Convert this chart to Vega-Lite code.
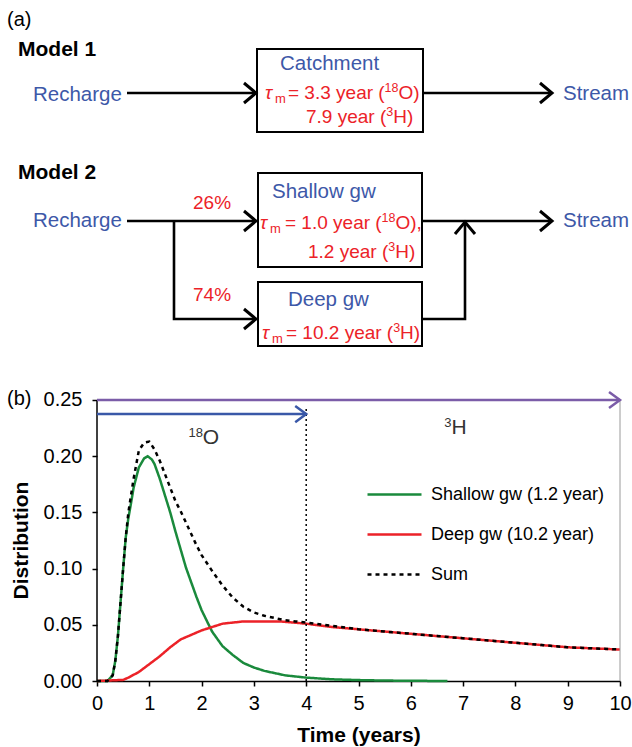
{
"$schema":"https://vega.github.io/schema/vega-lite/v6.json",
"autosize":{"type":"none"},
"width":523,"height":681,
"padding":{"left":97,"top":0,"right":12,"bottom":66},
"background":"white",
"config":{"view":{"stroke":null},"font":"Liberation Sans",
 "axis":{"labelFont":"Liberation Sans","titleFont":"Liberation Sans","labelColor":"black","titleColor":"black","tickColor":"black","domainColor":"black","grid":false},
 "legend":{"labelFont":"Liberation Sans"}},
"datasets":{
 "curves":[
  {"s":"Shallow gw (1.2 year)","t":0,"v":0},{"s":"Shallow gw (1.2 year)","t":0.2,"v":0},{"s":"Shallow gw (1.2 year)","t":0.3,"v":0.005},{"s":"Shallow gw (1.2 year)","t":0.35,"v":0.018},{"s":"Shallow gw (1.2 year)","t":0.4,"v":0.04},{"s":"Shallow gw (1.2 year)","t":0.45,"v":0.07},{"s":"Shallow gw (1.2 year)","t":0.5,"v":0.1},{"s":"Shallow gw (1.2 year)","t":0.55,"v":0.128},{"s":"Shallow gw (1.2 year)","t":0.6,"v":0.145},{"s":"Shallow gw (1.2 year)","t":0.65,"v":0.158},{"s":"Shallow gw (1.2 year)","t":0.7,"v":0.172},{"s":"Shallow gw (1.2 year)","t":0.8,"v":0.19},{"s":"Shallow gw (1.2 year)","t":0.9,"v":0.198},{"s":"Shallow gw (1.2 year)","t":0.97,"v":0.2},{"s":"Shallow gw (1.2 year)","t":1.05,"v":0.197},{"s":"Shallow gw (1.2 year)","t":1.1,"v":0.193},{"s":"Shallow gw (1.2 year)","t":1.2,"v":0.18},{"s":"Shallow gw (1.2 year)","t":1.3,"v":0.165},{"s":"Shallow gw (1.2 year)","t":1.4,"v":0.15},{"s":"Shallow gw (1.2 year)","t":1.5,"v":0.133},{"s":"Shallow gw (1.2 year)","t":1.6,"v":0.117},{"s":"Shallow gw (1.2 year)","t":1.7,"v":0.101},{"s":"Shallow gw (1.2 year)","t":1.8,"v":0.088},{"s":"Shallow gw (1.2 year)","t":1.9,"v":0.075},{"s":"Shallow gw (1.2 year)","t":2.0,"v":0.063},{"s":"Shallow gw (1.2 year)","t":2.2,"v":0.044},{"s":"Shallow gw (1.2 year)","t":2.4,"v":0.031},{"s":"Shallow gw (1.2 year)","t":2.6,"v":0.023},{"s":"Shallow gw (1.2 year)","t":2.8,"v":0.016},{"s":"Shallow gw (1.2 year)","t":3.0,"v":0.012},{"s":"Shallow gw (1.2 year)","t":3.2,"v":0.009},{"s":"Shallow gw (1.2 year)","t":3.4,"v":0.007},{"s":"Shallow gw (1.2 year)","t":3.6,"v":0.005},{"s":"Shallow gw (1.2 year)","t":3.8,"v":0.004},{"s":"Shallow gw (1.2 year)","t":4.0,"v":0.003},{"s":"Shallow gw (1.2 year)","t":4.5,"v":0.0015},{"s":"Shallow gw (1.2 year)","t":5.0,"v":0.0008},{"s":"Shallow gw (1.2 year)","t":5.5,"v":0.0004},{"s":"Shallow gw (1.2 year)","t":6.0,"v":0.0002},{"s":"Shallow gw (1.2 year)","t":6.7,"v":0},
  {"s":"Deep gw (10.2 year)","t":0,"v":0},{"s":"Deep gw (10.2 year)","t":0.5,"v":0.001},{"s":"Deep gw (10.2 year)","t":0.6,"v":0.003},{"s":"Deep gw (10.2 year)","t":0.8,"v":0.008},{"s":"Deep gw (10.2 year)","t":1.0,"v":0.015},{"s":"Deep gw (10.2 year)","t":1.2,"v":0.022},{"s":"Deep gw (10.2 year)","t":1.4,"v":0.03},{"s":"Deep gw (10.2 year)","t":1.6,"v":0.037},{"s":"Deep gw (10.2 year)","t":1.8,"v":0.041},{"s":"Deep gw (10.2 year)","t":2.0,"v":0.045},{"s":"Deep gw (10.2 year)","t":2.2,"v":0.048},{"s":"Deep gw (10.2 year)","t":2.4,"v":0.051},{"s":"Deep gw (10.2 year)","t":2.6,"v":0.052},{"s":"Deep gw (10.2 year)","t":2.8,"v":0.053},{"s":"Deep gw (10.2 year)","t":3.0,"v":0.053},{"s":"Deep gw (10.2 year)","t":3.5,"v":0.053},{"s":"Deep gw (10.2 year)","t":4.0,"v":0.051},{"s":"Deep gw (10.2 year)","t":4.5,"v":0.048},{"s":"Deep gw (10.2 year)","t":5.0,"v":0.046},{"s":"Deep gw (10.2 year)","t":5.5,"v":0.044},{"s":"Deep gw (10.2 year)","t":6.0,"v":0.042},{"s":"Deep gw (10.2 year)","t":6.5,"v":0.04},{"s":"Deep gw (10.2 year)","t":7.0,"v":0.038},{"s":"Deep gw (10.2 year)","t":7.5,"v":0.036},{"s":"Deep gw (10.2 year)","t":8.0,"v":0.034},{"s":"Deep gw (10.2 year)","t":8.5,"v":0.032},{"s":"Deep gw (10.2 year)","t":9.0,"v":0.03},{"s":"Deep gw (10.2 year)","t":9.5,"v":0.029},{"s":"Deep gw (10.2 year)","t":10,"v":0.028},
  {"s":"Sum","t":0,"v":0},{"s":"Sum","t":0.2,"v":0},{"s":"Sum","t":0.3,"v":0.005},{"s":"Sum","t":0.35,"v":0.018},{"s":"Sum","t":0.4,"v":0.04},{"s":"Sum","t":0.45,"v":0.07},{"s":"Sum","t":0.5,"v":0.1},{"s":"Sum","t":0.55,"v":0.128},{"s":"Sum","t":0.6,"v":0.15},{"s":"Sum","t":0.65,"v":0.165},{"s":"Sum","t":0.7,"v":0.18},{"s":"Sum","t":0.8,"v":0.205},{"s":"Sum","t":0.9,"v":0.212},{"s":"Sum","t":1.0,"v":0.213},{"s":"Sum","t":1.1,"v":0.206},{"s":"Sum","t":1.2,"v":0.196},{"s":"Sum","t":1.3,"v":0.184},{"s":"Sum","t":1.4,"v":0.172},{"s":"Sum","t":1.5,"v":0.16},{"s":"Sum","t":1.6,"v":0.151},{"s":"Sum","t":1.7,"v":0.141},{"s":"Sum","t":1.8,"v":0.131},{"s":"Sum","t":1.9,"v":0.121},{"s":"Sum","t":2.0,"v":0.112},{"s":"Sum","t":2.2,"v":0.098},{"s":"Sum","t":2.4,"v":0.085},{"s":"Sum","t":2.6,"v":0.074},{"s":"Sum","t":2.8,"v":0.066},{"s":"Sum","t":3.0,"v":0.061},{"s":"Sum","t":3.2,"v":0.058},{"s":"Sum","t":3.4,"v":0.056},{"s":"Sum","t":3.6,"v":0.054},{"s":"Sum","t":3.8,"v":0.053},{"s":"Sum","t":4.0,"v":0.052},{"s":"Sum","t":4.5,"v":0.049},{"s":"Sum","t":5.0,"v":0.046},{"s":"Sum","t":5.5,"v":0.044},{"s":"Sum","t":6.0,"v":0.042},{"s":"Sum","t":6.5,"v":0.04},{"s":"Sum","t":7.0,"v":0.038},{"s":"Sum","t":7.5,"v":0.036},{"s":"Sum","t":8.0,"v":0.034},{"s":"Sum","t":8.5,"v":0.032},{"s":"Sum","t":9.0,"v":0.03},{"s":"Sum","t":9.5,"v":0.029},{"s":"Sum","t":10,"v":0.028}
 ],
 "shafts":[
  {"id":"m1in","o":0,"x":127,"y":93},{"id":"m1in","o":1,"x":255,"y":93},
  {"id":"m1out","o":0,"x":424,"y":93},{"id":"m1out","o":1,"x":551,"y":93},
  {"id":"m2in","o":0,"x":127,"y":221},{"id":"m2in","o":1,"x":255,"y":221},
  {"id":"m2br","o":0,"x":174,"y":221},{"id":"m2br","o":1,"x":174,"y":319},{"id":"m2br","o":2,"x":255,"y":319},
  {"id":"m2out","o":0,"x":423,"y":221},{"id":"m2out","o":1,"x":551,"y":221},
  {"id":"m2deep","o":0,"x":423,"y":319},{"id":"m2deep","o":1,"x":465,"y":319},{"id":"m2deep","o":2,"x":465,"y":223}
 ],
 "heads":[
  {"id":"h1","o":0,"x":244,"y":83},{"id":"h1","o":1,"x":256,"y":93},{"id":"h1","o":2,"x":244,"y":103},
  {"id":"h2","o":0,"x":540,"y":83},{"id":"h2","o":1,"x":552,"y":93},{"id":"h2","o":2,"x":540,"y":103},
  {"id":"h3","o":0,"x":244,"y":211},{"id":"h3","o":1,"x":256,"y":221},{"id":"h3","o":2,"x":244,"y":231},
  {"id":"h4","o":0,"x":244,"y":309},{"id":"h4","o":1,"x":256,"y":319},{"id":"h4","o":2,"x":244,"y":329},
  {"id":"h5","o":0,"x":540,"y":211},{"id":"h5","o":1,"x":552,"y":221},{"id":"h5","o":2,"x":540,"y":231},
  {"id":"h6","o":0,"x":455,"y":234},{"id":"h6","o":1,"x":465,"y":222},{"id":"h6","o":2,"x":475,"y":234}
 ]
},
"layer":[
 {"layer":[
  {"data":{"name":"curves"},
   "mark":{"type":"line"},
   "encoding":{
    "x":{"field":"t","type":"quantitative","scale":{"domain":[0,10],"nice":false,"zero":false},
     "axis":{"orient":"bottom","title":"Time (years)","values":[0,1,2,3,4,5,6,7,8,9,10],"format":"d","labelFontSize":20,"tickSize":5,"labelPadding":7,"labelFlush":false,"titleFontSize":21,"titleFontWeight":"bold","titlePadding":11,"domainWidth":1.5,"tickWidth":1.5}},
    "y":{"field":"v","type":"quantitative","scale":{"domain":[0,0.60587],"nice":false,"zero":false},
     "axis":{"orient":"left","title":"Distribution","values":[0,0.05,0.1,0.15,0.2,0.25],"format":".2f","domain":false,"labelFontSize":20,"tickSize":5,"tickWidth":1.5,"labelPadding":10,"titleFontSize":21,"titleFontWeight":"bold","titleY":540,"titlePadding":12,"labelOverlap":false}},
    "color":{"field":"s","type":"nominal","scale":{"domain":["Shallow gw (1.2 year)","Deep gw (10.2 year)","Sum"],"range":["#1a8a3c","#ec2228","#000000"]},
     "legend":{"orient":"none","legendX":286,"legendY":483,"title":null,"symbolType":"M-2.7,0H2.7","symbolSize":400,"symbolStrokeWidth":3,"labelFontSize":18,"labelColor":"black","labelOffset":25,"labelLimit":400,"rowPadding":19,"padding":0}},
    "strokeDash":{"field":"s","type":"nominal","scale":{"domain":["Shallow gw (1.2 year)","Deep gw (10.2 year)","Sum"],"range":[[1,0],[1,0],[4,4]]},
     "legend":{"orient":"none","legendX":286,"legendY":483,"title":null,"symbolType":"M-2.7,0H2.7","symbolSize":400,"symbolStrokeWidth":3,"labelFontSize":18,"labelColor":"black","labelOffset":25,"labelLimit":400,"rowPadding":19,"padding":0}},
    "strokeWidth":{"field":"s","type":"nominal","scale":{"domain":["Shallow gw (1.2 year)","Deep gw (10.2 year)","Sum"],"range":[2.5,2.5,3]},"legend":null}
   }},
  {"data":{"values":[{"t":0,"v":0,"v2":0.25}]},"mark":{"type":"rule","color":"black","strokeWidth":1.5},
   "encoding":{"x":{"field":"t","type":"quantitative"},"y":{"field":"v","type":"quantitative"},"y2":{"field":"v2"}}},
  {"data":{"values":[{"t":10,"v":0,"v2":0.25}]},"mark":{"type":"rule","color":"#9a9a9a","strokeWidth":1},
   "encoding":{"x":{"field":"t","type":"quantitative"},"y":{"field":"v","type":"quantitative"},"y2":{"field":"v2"}}},
  {"data":{"values":[{"t":4,"v":0,"v2":0.244}]},"mark":{"type":"rule","color":"black","strokeWidth":1.5,"strokeDash":[2,3]},
   "encoding":{"x":{"field":"t","type":"quantitative"},"y":{"field":"v","type":"quantitative"},"y2":{"field":"v2"}}},
  {"data":{"values":[
    {"id":"shaft","o":0,"t":0,"v":0.25},{"id":"shaft","o":1,"t":10,"v":0.25},
    {"id":"head","o":0,"t":9.79,"v":0.2572},{"id":"head","o":1,"t":10,"v":0.25},{"id":"head","o":2,"t":9.79,"v":0.2428}]},
   "mark":{"type":"line","color":"#7b5ca8","strokeWidth":2.5,"strokeJoin":"miter"},
   "encoding":{"x":{"field":"t","type":"quantitative"},"y":{"field":"v","type":"quantitative"},"detail":{"field":"id"},"order":{"field":"o"}}},
  {"data":{"values":[
    {"id":"shaft","o":0,"t":0,"v":0.2375},{"id":"shaft","o":1,"t":4,"v":0.2375},
    {"id":"head","o":0,"t":3.79,"v":0.2447},{"id":"head","o":1,"t":4,"v":0.2375},{"id":"head","o":2,"t":3.79,"v":0.2303}]},
   "mark":{"type":"line","color":"#3a58a8","strokeWidth":2.5,"strokeJoin":"miter"},
   "encoding":{"x":{"field":"t","type":"quantitative"},"y":{"field":"v","type":"quantitative"},"detail":{"field":"id"},"order":{"field":"o"}}},
  {"data":{"values":[{"t":2.02,"v":0.216,"txt":"O"},{"t":6.78,"v":0.225,"txt":"H"}]},
   "mark":{"type":"text","align":"left","baseline":"middle","fontSize":21,"color":"#333333"},
   "encoding":{"x":{"field":"t","type":"quantitative"},"y":{"field":"v","type":"quantitative"},"text":{"field":"txt"}}},
  {"data":{"values":[{"t":1.75,"v":0.2205,"txt":"18"},{"t":6.64,"v":0.2295,"txt":"3"}]},
   "mark":{"type":"text","align":"left","baseline":"middle","fontSize":13,"color":"#333333"},
   "encoding":{"x":{"field":"t","type":"quantitative"},"y":{"field":"v","type":"quantitative"},"text":{"field":"txt"}}}
 ]},
 {"encoding":{
   "x":{"field":"x","type":"quantitative","scale":{"domain":[97,620],"nice":false,"zero":false},"axis":null},
   "y":{"field":"y","type":"quantitative","scale":{"domain":[0,681],"reverse":true,"nice":false,"zero":false},"axis":null}},
  "layer":[
  {"data":{"values":[{"x":257,"x2":423,"y":49,"y2":132},{"x":258,"x2":422,"y":173,"y2":267},{"x":258,"x2":422,"y":282,"y2":346}]},
   "mark":{"type":"rect","fill":"white","stroke":"black","strokeWidth":2},
   "encoding":{"x2":{"field":"x2"},"y2":{"field":"y2"}}},
  {"data":{"name":"shafts"},"mark":{"type":"line","color":"black","strokeWidth":2.6,"strokeJoin":"miter"},
   "encoding":{"detail":{"field":"id"},"order":{"field":"o"}}},
  {"data":{"name":"heads"},"mark":{"type":"line","color":"black","strokeWidth":3,"strokeJoin":"miter"},
   "encoding":{"detail":{"field":"id"},"order":{"field":"o"}}},
  {"data":{"values":[{"x":7,"y":20,"txt":"(a)"},{"x":7,"y":399,"txt":"(b)"}]},
   "mark":{"type":"text","align":"left","baseline":"middle","fontSize":20,"color":"black"},
   "encoding":{"text":{"field":"txt"}}},
  {"data":{"values":[{"x":18,"y":50,"txt":"Model 1"},{"x":18,"y":173,"txt":"Model 2"}]},
   "mark":{"type":"text","align":"left","baseline":"middle","fontSize":21,"fontWeight":"bold","color":"black"},
   "encoding":{"text":{"field":"txt"}}},
  {"data":{"values":[{"x":33,"y":95,"txt":"Recharge"},{"x":280,"y":64,"txt":"Catchment"},{"x":563,"y":94,"txt":"Stream"},{"x":33,"y":221,"txt":"Recharge"},{"x":272,"y":192,"txt":"Shallow gw"},{"x":563,"y":221,"txt":"Stream"},{"x":288,"y":300,"txt":"Deep gw"}]},
   "mark":{"type":"text","align":"left","baseline":"middle","fontSize":20.5,"color":"#3d58a8"},
   "encoding":{"text":{"field":"txt"}}},
  {"data":{"values":[{"x":193,"y":203,"txt":"26%"},{"x":193,"y":295,"txt":"74%"},
    {"x":288,"y":93,"txt":"= 3.3 year ("},{"x":398.5,"y":93,"txt":"O)"},
    {"x":306,"y":117,"txt":"7.9 year ("},{"x":393.2,"y":117,"txt":"H)"},
    {"x":285,"y":223,"txt":"= 1.0 year ("},{"x":395.5,"y":223,"txt":"O),"},
    {"x":308,"y":252,"txt":"1.2 year ("},{"x":395.2,"y":252,"txt":"H)"},
    {"x":286,"y":333,"txt":"= 10.2 year ("},{"x":400.1,"y":333,"txt":"H)"}]},
   "mark":{"type":"text","align":"left","baseline":"middle","fontSize":19,"color":"#ec2228"},
   "encoding":{"text":{"field":"txt"}}},
  {"data":{"values":[{"x":384.6,"y":88,"txt":"18"},{"x":386.3,"y":112,"txt":"3"},{"x":381.6,"y":218,"txt":"18"},{"x":388.3,"y":247,"txt":"3"},{"x":393.2,"y":328,"txt":"3"}]},
   "mark":{"type":"text","align":"left","baseline":"middle","fontSize":12.5,"color":"#ec2228"},
   "encoding":{"text":{"field":"txt"}}},
  {"data":{"values":[{"x":265,"y":93,"txt":"τ"},{"x":260,"y":223,"txt":"τ"},{"x":262,"y":333,"txt":"τ"}]},
   "mark":{"type":"text","align":"left","baseline":"middle","fontSize":19,"fontStyle":"italic","color":"#ec2228"},
   "encoding":{"text":{"field":"txt"}}},
  {"data":{"values":[{"x":275,"y":99,"txt":"m"},{"x":270,"y":229,"txt":"m"},{"x":272,"y":339,"txt":"m"}]},
   "mark":{"type":"text","align":"left","baseline":"middle","fontSize":13,"color":"#ec2228"},
   "encoding":{"text":{"field":"txt"}}}
 ]}
],
"resolve":{"scale":{"x":"independent","y":"independent"}}
}
